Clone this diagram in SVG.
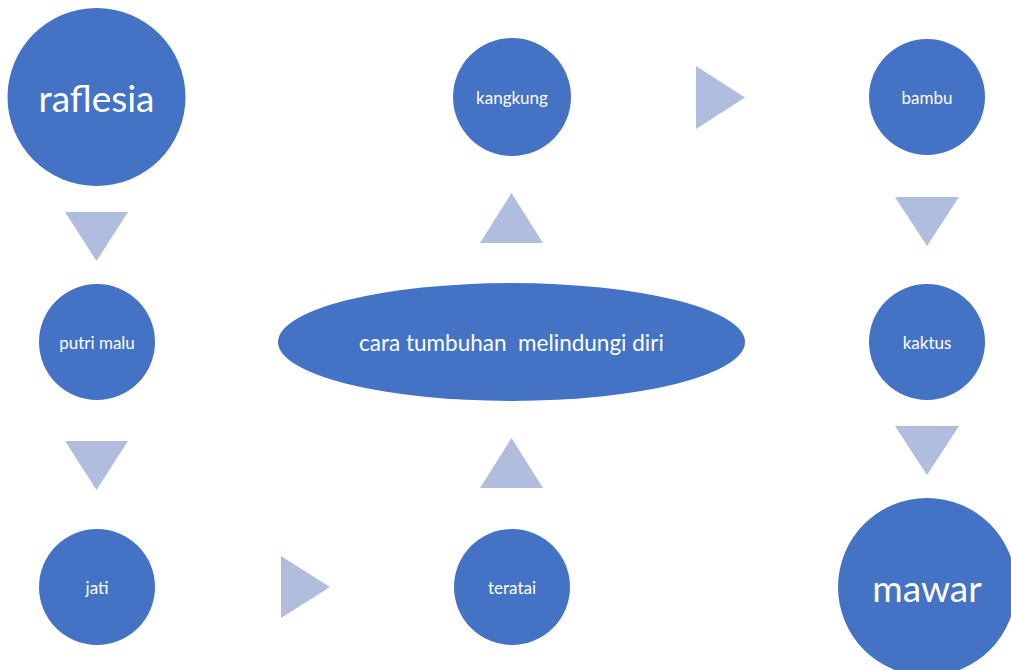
<svg xmlns="http://www.w3.org/2000/svg" width="1011" height="670" viewBox="0 0 1011 670">
<style>
.n{fill:#4472C4}
.a{fill:#B0BDDF}
text{fill:#fff;font-family:Lato,"Liberation Sans",sans-serif;text-anchor:middle;dominant-baseline:central;white-space:pre}
.s{font-size:17px}
.l{font-size:37px}
.m{font-size:22.5px}
</style>
<rect width="1011" height="670" fill="#fff"/>
<g id="connectors">
<polygon class="a" points="65,212 128,212 96.5,261"/>
<polygon class="a" points="65,441 128,441 96.5,490"/>
<polygon class="a" points="281,556 281,618 330,587"/>
<polygon class="a" points="480,488 543,488 511.5,438"/>
<polygon class="a" points="480,243 543,243 511.5,193"/>
<polygon class="a" points="696,66 696,129 745,97.5"/>
<polygon class="a" points="895,197 959,197 927,246"/>
<polygon class="a" points="895,426 959,426 927,475"/>
</g>
<g id="raflesia"><circle class="n" cx="96.5" cy="97" r="89"/><text class="l" x="96.5" y="97">raflesia</text></g>
<g id="putri-malu"><circle class="n" cx="97" cy="342" r="58"/><text class="s" x="97" y="342">putri malu</text></g>
<g id="jati"><circle class="n" cx="97" cy="587" r="58"/><text class="s" x="97" y="587">jati</text></g>
<g id="teratai"><circle class="n" cx="512" cy="587" r="58"/><text class="s" x="512" y="587">teratai</text></g>
<g id="center"><ellipse class="n" cx="511.5" cy="342" rx="233.5" ry="59"/><text class="m" x="511.5" y="342">cara tumbuhan  melindungi diri</text></g>
<g id="kangkung"><circle class="n" cx="512" cy="97" r="59"/><text class="s" x="512" y="97">kangkung</text></g>
<g id="bambu"><circle class="n" cx="927" cy="97" r="58"/><text class="s" x="927" y="97">bambu</text></g>
<g id="kaktus"><circle class="n" cx="927" cy="342" r="58"/><text class="s" x="927" y="342">kaktus</text></g>
<g id="mawar"><circle class="n" cx="927" cy="587" r="89"/><text class="l" x="927" y="587">mawar</text></g>
</svg>
